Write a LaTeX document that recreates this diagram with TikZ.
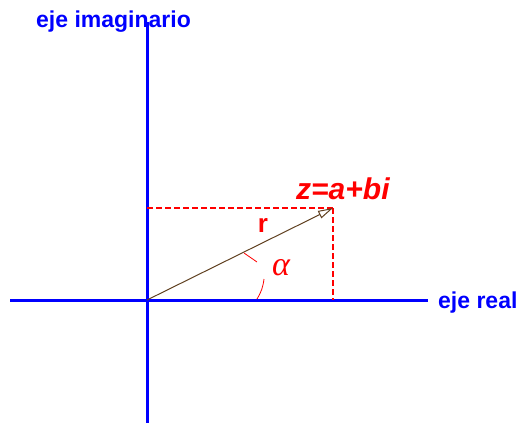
\documentclass[tikz,border=0pt]{standalone}
\usepackage{fontspec}
\setmainfont{Liberation Sans}
\newfontfamily\grkfont{Liberation Serif}
\usetikzlibrary{arrows.meta}
\begin{document}
\begin{tikzpicture}[x=1pt,y=-1pt,
  axis/.style={draw=blue,line width=3pt},
  proj/.style={draw=red,line width=2.2pt,dash pattern=on 6pt off 3pt},
  vec/.style={draw=brown!50!black,line width=1pt,-{Triangle[open,length=15pt,width=8pt]}},
  anglemark/.style={draw=red,line width=0.8pt},
  lbl/.style={text=blue,font=\fontsize{23}{26}\selectfont\bfseries,inner sep=0pt},
  rlbl/.style={text=red,inner sep=0pt}]
\useasboundingbox (0,0) rectangle (521,423);
\coordinate (O) at (147,300);
\coordinate (P) at (333,208);
\coordinate (Xl) at (10,300);
\coordinate (Xr) at (428,300);
\coordinate (Yt) at (147,22);
\coordinate (Yb) at (147,423);
\coordinate (Py) at (147,208);
\coordinate (Px) at (333,300);
\coordinate (A1) at (244,253);
\coordinate (A2) at (257,262);
\coordinate (A3) at (264,279);
\coordinate (A4) at (257,299);
\draw[axis] (Xl) -- (Xr);
\draw[axis] (Yt) -- (Yb);
\draw[proj] (Py) -- (P);
\draw[proj] (P) -- (Px);
\draw[vec] (O) -- (P);
\draw[anglemark] (A1) -- (A2);
\draw[anglemark] (A3) to[bend left=12] (A4);
\node[lbl,anchor=base west] (ei) at (36,27) {eje imaginario};
\node[lbl,anchor=base west] (er) at (438,308) {eje real};
\node[rlbl,anchor=base west,font=\fontsize{30}{32}\selectfont\bfseries\itshape] (z) at (296,199) {z=a+bi};
\node[rlbl,font=\fontsize{26}{28}\selectfont\bfseries] (r) at (263,225) {r};
\node[rlbl,font=\fontsize{34}{36}\selectfont\grkfont\itshape] (al) at (281,268) {α};
\end{tikzpicture}
\end{document}
